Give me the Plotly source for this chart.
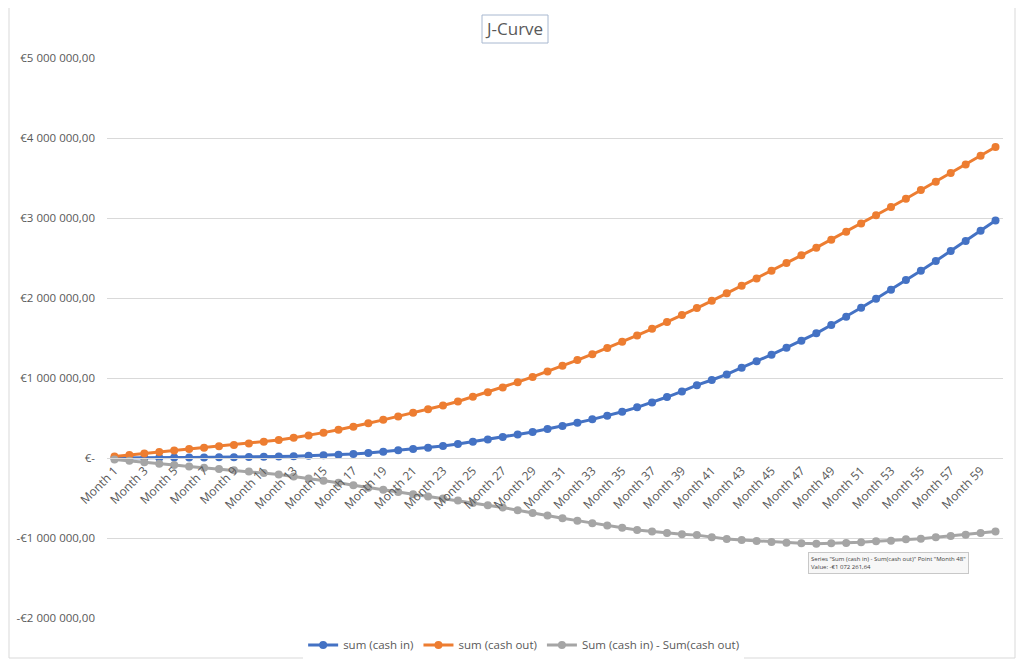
import plotly.graph_objects as go

# categories
months = ["Month %d" % i for i in range(1, 61)]

# cumulative cash in / cash out, in euros
cash_in = [0, 3000, 4000, 4000, 5000, 5000, 6000, 8000, 10000, 12000,
           15000, 18000, 22000, 27000, 34000, 42000, 50000, 63000, 79000, 96000,
           112000, 129000, 150000, 175000, 203000, 232000, 264000, 295000, 325000, 362000,
           400000, 441000, 483000, 529000, 579000, 633000, 695000, 762000, 832000, 910000,
           975000, 1045000, 1129000, 1208000, 1291000, 1379000, 1466000, 1558000, 1662000, 1766000,
           1879000, 1991000, 2104000, 2225000, 2341000, 2462000, 2587000, 2712000, 2841000, 2968000]

cash_out = [20000, 38000, 56000, 75000, 93000, 111000, 129000, 146000, 163000, 181000,
            202000, 224000, 252000, 282000, 317000, 352000, 390000, 434000, 477000, 520000,
            565000, 609000, 657000, 707000, 765000, 823000, 882000, 948000, 1014000, 1082000,
            1153000, 1224000, 1298000, 1374000, 1452000, 1532000, 1615000, 1699000, 1786000, 1874000,
            1965000, 2058000, 2153000, 2245000, 2341000, 2437000, 2533000, 2629000, 2729000, 2829000,
            2932000, 3033000, 3137000, 3241000, 3349000, 3454000, 3562000, 3670000, 3779000, 3887000]

net = [-20000, -35000, -52000, -71000, -88000, -106000, -123000, -138000, -153000, -169000,
       -187000, -206000, -230000, -255000, -283000, -310000, -340000, -371000, -398000, -424000,
       -453000, -480000, -507000, -532000, -562000, -591000, -618000, -653000, -689000, -720000,
       -753000, -783000, -815000, -845000, -873000, -899000, -920000, -937000, -954000, -964000,
       -990000, -1013000, -1024000, -1037000, -1050000, -1058000, -1067000, -1072262, -1067000, -1063000,
       -1053000, -1042000, -1033000, -1016000, -1008000, -992000, -975000, -958000, -938000, -919000]

# y axis ticks
y_ticks = [-2000000, -1000000, 0, 1000000, 2000000, 3000000, 4000000, 5000000]
y_labels = ["-€2 000 000,00", "-€1 000 000,00", "€-", "€1 000 000,00",
            "€2 000 000,00", "€3 000 000,00", "€4 000 000,00", "€5 000 000,00"]

FONT = "Open Sans"
TXT = "#595959"

# the page body has an 8px margin, so the figure is kept 16px smaller
# than the window and the margins are shifted by 8px
fig = go.Figure()

series = [
    ("sum (cash in)", cash_in, "#4472C4"),
    ("sum (cash out)", cash_out, "#ED7D31"),
    ("Sum (cash in) - Sum(cash out)", net, "#A5A5A5"),
]
for name, vals, col in series:
    fig.add_trace(go.Scatter(
        x=months, y=vals, name=name, mode="lines+markers",
        line=dict(color=col, width=3),
        marker=dict(color=col, size=8),
    ))

fig.update_layout(
    width=1008, height=651,
    margin=dict(l=99, r=13, t=50, b=41, autoexpand=False),
    paper_bgcolor="white", plot_bgcolor="white",
    font=dict(family=FONT, size=11.5, color=TXT),
    showlegend=True,
    legend=dict(orientation="h", x=0.465, xanchor="center", y=-0.048, yanchor="middle",
                font=dict(size=11.5, color=TXT), itemwidth=30, tracegroupgap=0),
    xaxis=dict(
        type="category", categoryorder="array", categoryarray=months,
        range=[-0.5, 59.5], automargin=False,
        tickvals=months[::2], ticktext=months[::2], tickangle=-45,
        showgrid=False, showline=True, linecolor="#D9D9D9", linewidth=1,
        ticks="", anchor="free", position=2 / 7,
        tickfont=dict(size=12, color=TXT),
    ),
    yaxis=dict(
        range=[-2000000, 5000000], tickvals=y_ticks, ticktext=y_labels,
        showgrid=True, gridcolor="#D9D9D9", gridwidth=1, automargin=False,
        zeroline=False, ticks="", ticklabelstandoff=11,
        tickfont=dict(size=11.5, color=TXT),
    ),
    annotations=[
        dict(text="J-Curve", xref="paper", yref="paper", x=(514 - 107) / 896, y=(618 - 29) / 560,
             xanchor="center", yanchor="middle", showarrow=False,
             font=dict(size=17, color=TXT, family=FONT)),
        dict(text='Series "Sum (cash in) - Sum(cash out)" Point "Month 48"<br>Value: -€1 072 261,64',
             xref="x", yref="y", x="Month 48", y=-1180000, xanchor="left", yanchor="top",
             xshift=-8, showarrow=False, align="left",
             font=dict(size=6, color="#404040", family=FONT),
             bgcolor="#F7F7F7", bordercolor="#C8C8C8", borderwidth=1, borderpad=2),
    ],
    shapes=[
        # outer chart frame
        dict(type="rect", xref="paper", yref="paper",
             x0=(9 - 107) / 896, x1=(1015 - 107) / 896, y0=(618 - 658) / 560, y1=(618 - 6) / 560,
             line=dict(color="#D9D9D9", width=1), layer="below"),
        # title selection box
        dict(type="rect", xref="paper", yref="paper",
             x0=(482 - 107) / 896, x1=(548 - 107) / 896, y0=(618 - 43) / 560, y1=(618 - 15) / 560,
             line=dict(color="#A8B8D0", width=1)),
    ],
)

fig.write_html("out.html")
